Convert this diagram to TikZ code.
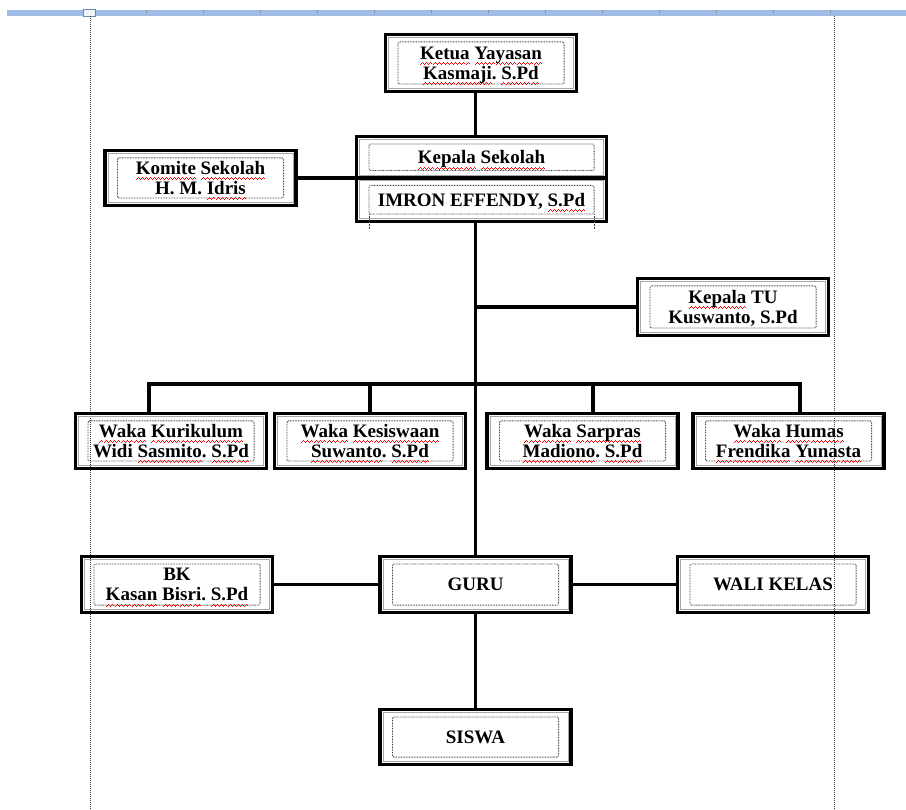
\documentclass[tikz,border=0pt]{standalone}
\usepackage{fontspec}
\setmainfont{Liberation Serif}
\usetikzlibrary{calc}
\definecolor{rulerblue}{RGB}{157,187,228}
\definecolor{markblue}{RGB}{105,135,185}
\frenchspacing
\newcommand{\wfont}{\fontsize{19}{20}\selectfont\bfseries}
% red spelling squiggle under a word
\newcommand{\wave}{\hbox{\rule[-5.6pt]{1pt}{.8pt}\rule[-4.6pt]{1pt}{.8pt}\rule[-3.6pt]{1pt}{.8pt}\rule[-4.6pt]{1pt}{.8pt}}}
\newcommand{\sq}[1]{\leavevmode\setbox0\hbox{#1}\rlap{\smash{\hbox to\wd0{\color{red}\xleaders\wave\hfil}}}\box0\relax}

\begin{document}
\begin{tikzpicture}[x=1pt,y=-1pt,
rim/.style={draw=black!35,line width=.8pt},
dotbox/.style={draw=black!75,line width=.8pt,dash pattern=on .8pt off .8pt,rounded corners=1.5pt},
box/.style={draw,line width=3.2pt,minimum width=191pt,minimum height=56pt,inner sep=0pt,align=center,font=\wfont,text depth=0pt,
  path picture={
    \draw[rim] ([shift={(2.9pt,-2.9pt)}]path picture bounding box.north west) rectangle ([shift={(-2.9pt,2.9pt)}]path picture bounding box.south east);
    \draw[dotbox] ([shift={(12.4pt,-7.4pt)}]path picture bounding box.north west) rectangle ([shift={(-12.4pt,7.4pt)}]path picture bounding box.south east);}},
link/.style={line width=3.2pt},
margin/.style={black!75,line width=.8pt,dash pattern=on .9pt off 1.1pt}]
\useasboundingbox (0,0) rectangle (906,810);

% ruler and page margins
\fill[rulerblue] (7,10) rectangle (906,16);
\foreach \t in {0,...,12}
  \draw[black!45,line width=1pt] (146+57*\t,10.5) -- ++(0,3);
\draw[markblue,fill=white!85!rulerblue,line width=.8pt] (83,9) rectangle (95,16);
\draw[margin] (90,16) -- (90,810);
\draw[margin] (834,16) -- (834,810);

\node[box,minimum height=57pt] (ketua) at (481,63) {\sq{Ketua} \sq{Yayasan}\\\sq{Kasmaji}. \sq{S.Pd}};
\node[box,minimum height=55pt] (komite) at (200.5,178) {\sq{Komite} \sq{Sekolah}\\H. M. \sq{Idris}};
\node[box,minimum width=250pt,minimum height=41.4pt] (kstop) at (481.5,157.3) {\sq{Kepala} \sq{Sekolah}};
\node[box,minimum width=250pt,minimum height=43.4pt] (ksbot) at (481.5,199.7) {IMRON EFFENDY, \sq{S.Pd}};
\node[box,minimum height=57pt] (katu) at (733,307) {\sq{Kepala} TU\\Kuswanto, S.Pd};
\node[box,minimum height=55pt] (wkur) at (171,441) {\sq{Waka} \sq{Kurikulum}\\Widi \sq{Sasmito}. \sq{S.Pd}};
\node[box,minimum height=55pt] (wkes) at (370,441) {\sq{Waka} \sq{Kesiswaan}\\\sq{Suwanto}. \sq{S.Pd}};
\node[box,minimum height=55pt] (wsar) at (582.5,441) {\sq{Waka} \sq{Sarpras}\\\sq{Madiono}. \sq{S.Pd}};
\node[box,minimum height=55pt] (whum) at (788.5,441) {\sq{Waka} \sq{Humas}\\\sq{Frendika} \sq{Yunasta}};
\node[box] (bk) at (177,584.5) {BK\\\sq{Kasan} \sq{Bisri}. \sq{S.Pd}};
\node[box] (guru) at (475.5,584.5) {GURU};
\node[box] (wali) at (773,584.5) {WALI KELAS};
\node[box,minimum height=55pt] (siswa) at (475.5,737) {SISWA};
\draw[dotbox,rounded corners=0pt] ([shift={(14pt,9pt)}]ksbot.south west) -- ([shift={(14pt,-6pt)}]ksbot.south west);
\draw[dotbox,rounded corners=0pt] ([shift={(-14pt,9pt)}]ksbot.south east) -- ([shift={(-14pt,-6pt)}]ksbot.south east);

\draw[link] (ketua.south -| guru.north) -- (kstop.north -| guru.north);
\draw[link] (komite.east) -- (komite.east -| kstop.west);
\draw[link] (ksbot.south -| guru.north) -- (guru.north);
\draw[link] (katu.west -| guru.north) -- (katu.west);
\coordinate (bus) at (475.5,384);
\draw[link] ([xshift=-22pt]wkur.north) |- (bus) -| ([xshift=11.5pt]whum.north);
\draw[link] (wkes.north) -- (wkes.north |- bus);
\draw[link] ([xshift=10.5pt]wsar.north) -- ([xshift=10.5pt]wsar.north |- bus);
\draw[link] (bk.east) -- (guru.west);
\draw[link] (guru.east) -- (wali.west);
\draw[link] (guru.south) -- (siswa.north);
\end{tikzpicture}
\end{document}
